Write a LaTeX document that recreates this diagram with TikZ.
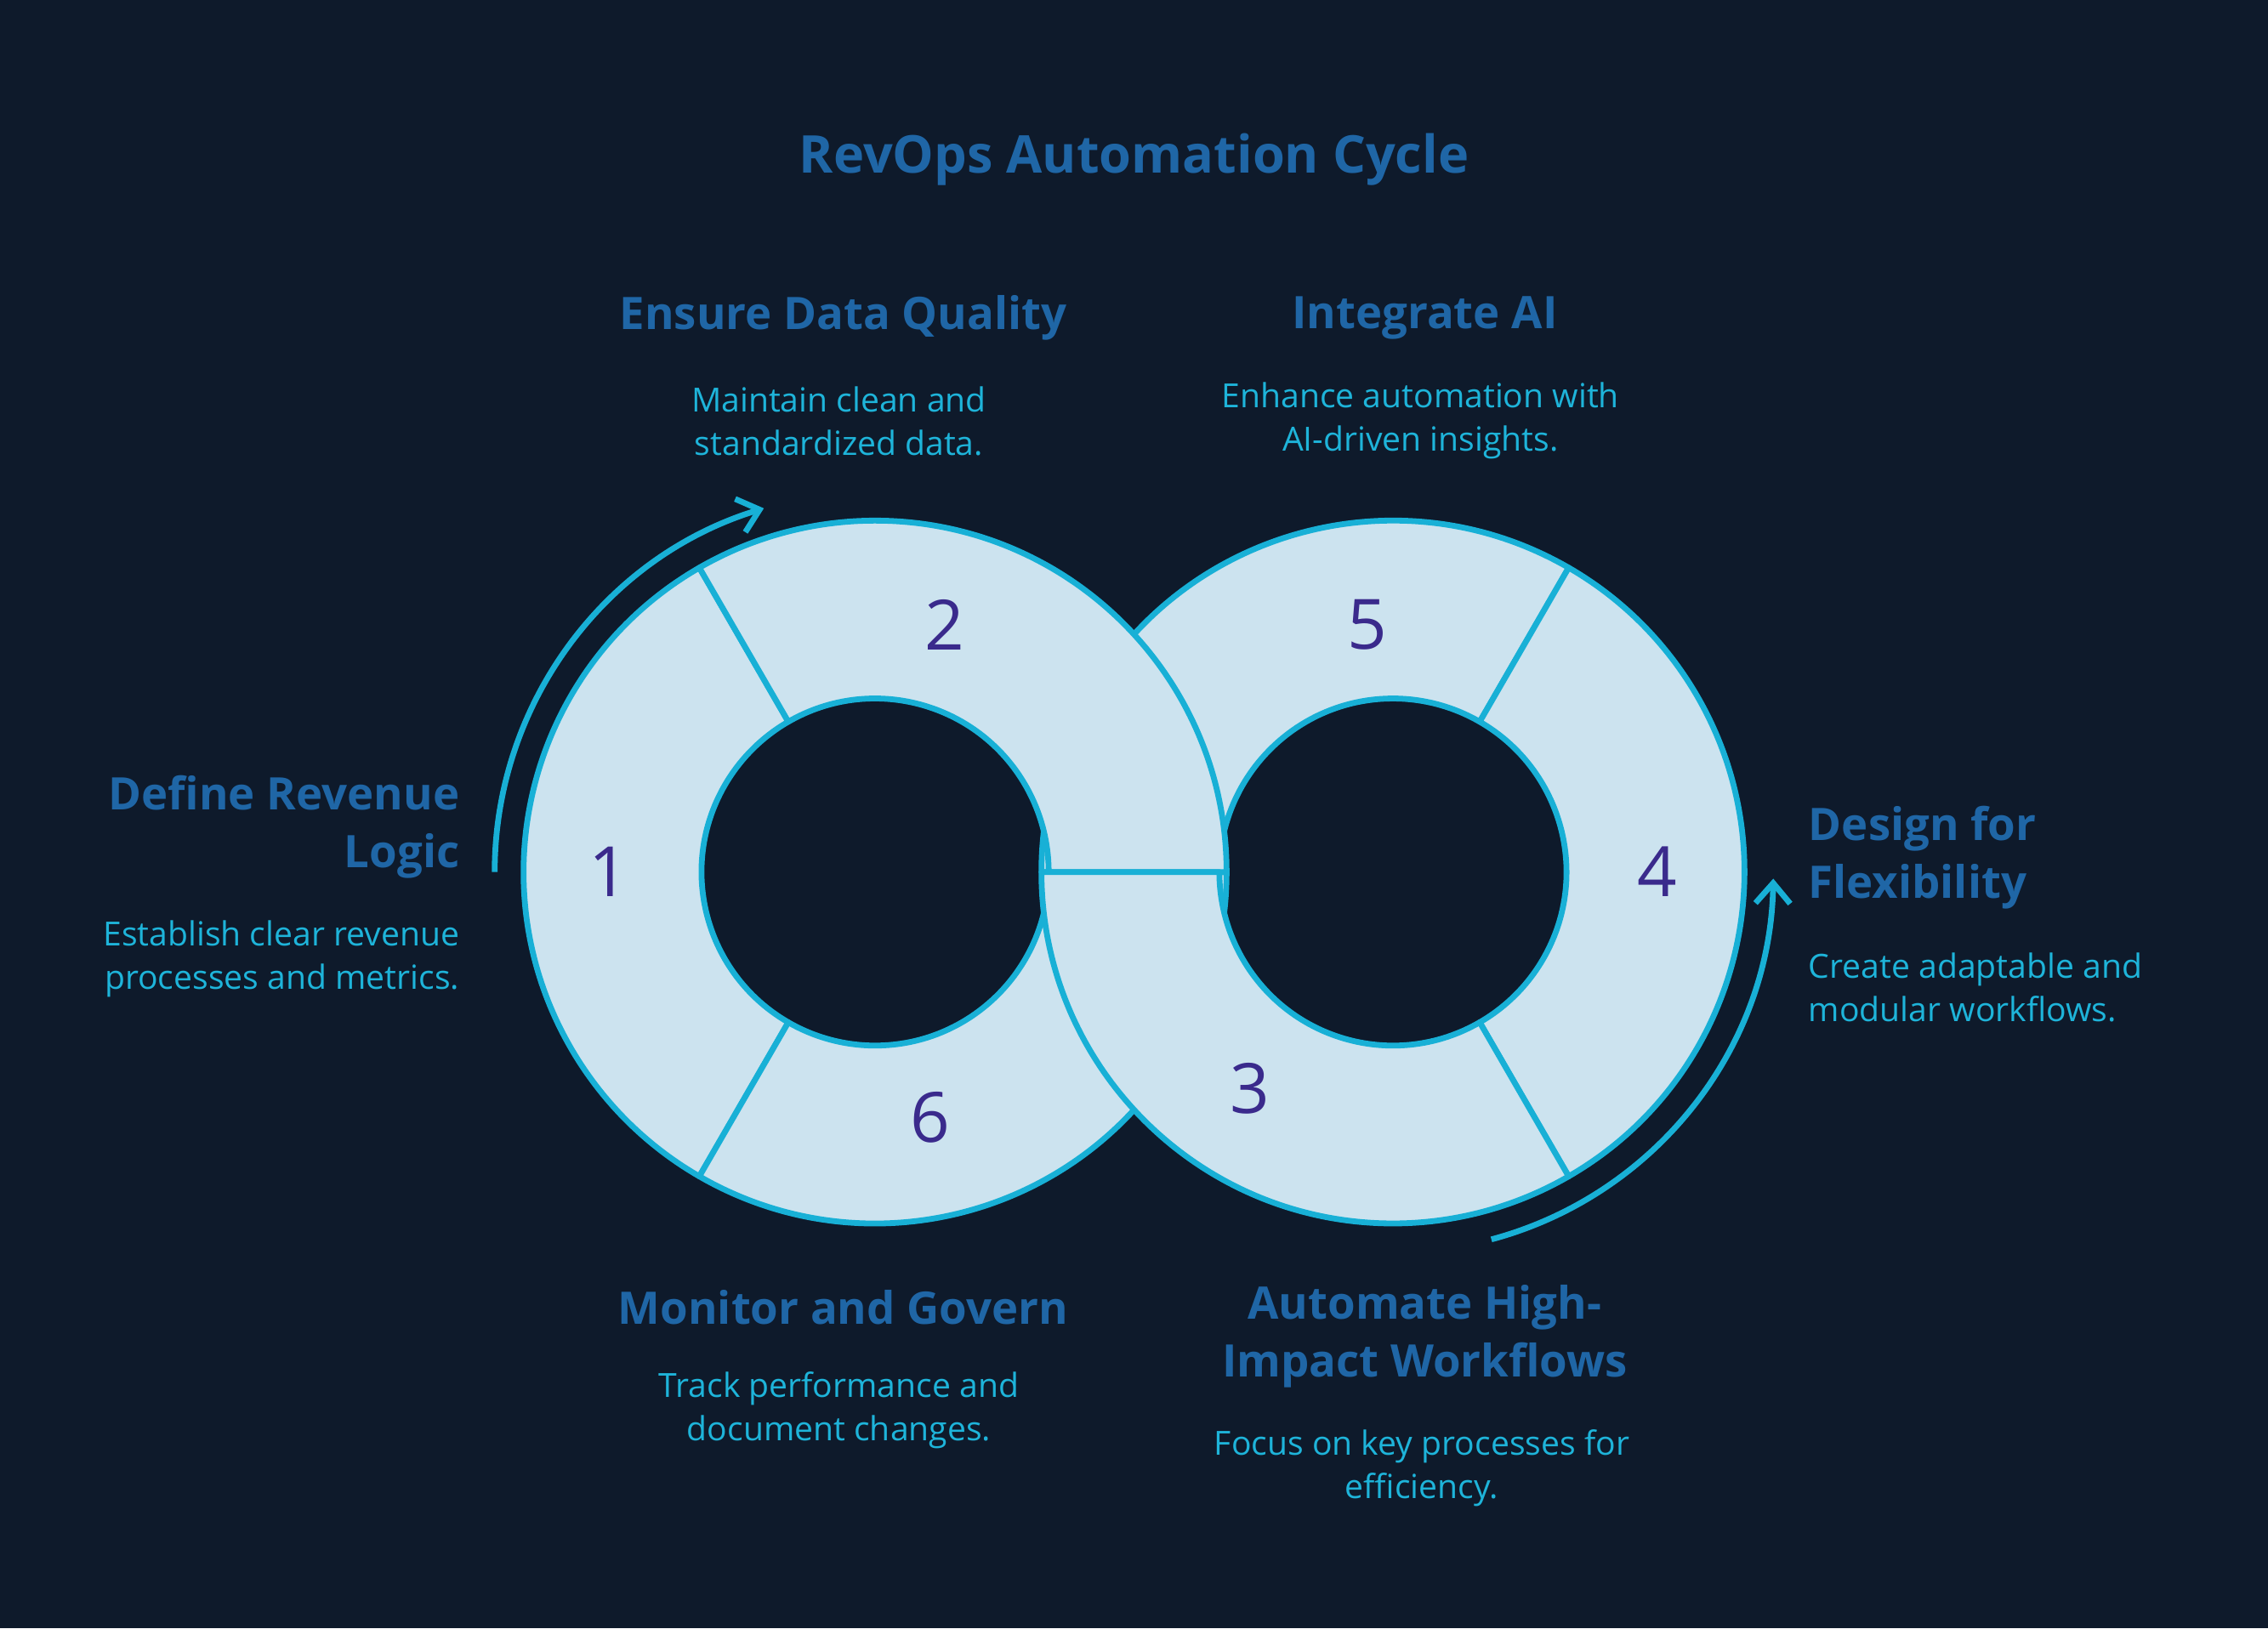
\documentclass[tikz,border=0pt]{standalone}
\usepackage{fontspec}
\setmainfont{Open Sans}
\usetikzlibrary{arrows.meta}
\definecolor{bg}{HTML}{0E1A2B}
\definecolor{ringfill}{HTML}{CCE3EF}
\definecolor{ringline}{HTML}{18B0D6}
\definecolor{head}{HTML}{1F66A6}
\definecolor{desc}{HTML}{1EB4DA}
\definecolor{num}{HTML}{3A2A8C}
\tikzset{
  seg/.style={fill=ringfill,draw=ringline,line width=2pt,line join=round},
  headtxt/.style={text=head,font=\bfseries\fontsize{15.5}{20}\selectfont,align=center},
  desctxt/.style={text=desc,font=\fontsize{11.5}{15}\selectfont,align=center},
  numtxt/.style={text=num,font=\fontsize{24}{28}\selectfont},
  cyc/.style={draw=ringline,line width=2pt,-{Straight Barb[length=7pt,width=12pt,line width=2pt]}}
}
\begin{document}
\begin{tikzpicture}[x=0.5pt,y=-0.5pt]
\fill[bg] (0,0) rectangle (1568,1126);
\useasboundingbox (0,0) rectangle (1568,1126);
\def\Ro{243}\def\Ri{120}
\coordinate (L) at (605,603);
\coordinate (R) at (963,603);
\path[seg] ([shift={(-120:\Ro)}]L) arc[start angle=-120,end angle=-240,radius=\Ro] -- ([shift={(-240:\Ri)}]L) arc[start angle=-240,end angle=-120,radius=\Ri] -- cycle;
\path[seg] ([shift={(-240:\Ro)}]L) arc[start angle=-240,end angle=-360,radius=\Ro] -- ([shift={(0:\Ri)}]L) arc[start angle=-360,end angle=-240,radius=\Ri] -- cycle;
\path[seg] ([shift={(-60:\Ro)}]R) arc[start angle=-60,end angle=-180,radius=\Ro] -- ([shift={(-180:\Ri)}]R) arc[start angle=-180,end angle=-60,radius=\Ri] -- cycle;
\path[seg] ([shift={(60:\Ro)}]R) arc[start angle=60,end angle=-60,radius=\Ro] -- ([shift={(-60:\Ri)}]R) arc[start angle=-60,end angle=60,radius=\Ri] -- cycle;
\path[seg] ([shift={(0:\Ro)}]L) arc[start angle=0,end angle=-120,radius=\Ro] -- ([shift={(-120:\Ri)}]L) arc[start angle=-120,end angle=0,radius=\Ri] -- cycle;
\path[seg] ([shift={(180:\Ro)}]R) arc[start angle=180,end angle=60,radius=\Ro] -- ([shift={(60:\Ri)}]R) arc[start angle=60,end angle=180,radius=\Ri] -- cycle;
% cycle arrows
\draw[cyc] ([shift={(180:263)}]L) arc[start angle=180,end angle=253,radius=263];
\draw[cyc] ([shift={(75:263)}]R) arc[start angle=75,end angle=1,radius=263];
% numbers
\node[numtxt] (n1) at (421,603) {1};
\node[numtxt] (n2) at (653,432) {2};
\node[numtxt] (n5) at (945,432) {5};
\node[numtxt] (n4) at (1146,603) {4};
\node[numtxt] (n3) at (864,753) {3};
\node[numtxt] (n6) at (643,773) {6};
% title
\node[text=head,font=\bfseries\fontsize{18}{22}\selectfont] (title) at (784,110) {RevOps Automation Cycle};
% labels
\node[headtxt] (h2) at (583,220) {Ensure Data Quality};
\node[desctxt] (d2) at (580,291) {Maintain clean and\\standardized data.};
\node[headtxt] (h5) at (985,220) {Integrate AI};
\node[desctxt] (d5) at (982,291) {Enhance automation with\\AI-driven insights.};
\node[headtxt,align=right,anchor=east,inner sep=0pt] (h1) at (318,572) {Define Revenue\\Logic};
\node[desctxt,align=right,anchor=east,inner sep=0pt] (d1) at (318,663) {Establish clear revenue\\processes and metrics.};
\node[headtxt,align=left,anchor=west,inner sep=0pt] (h4) at (1250,593) {Design for\\Flexibility};
\node[desctxt,align=left,anchor=west,inner sep=0pt] (d4) at (1250,683) {Create adaptable and\\modular workflows.};
\node[headtxt] (h6) at (583,904) {Monitor and Govern};
\node[desctxt] (d6) at (580,975) {Track performance and\\document changes.};
\node[headtxt] (h3) at (985,924) {Automate High-\\Impact Workflows};
\node[desctxt] (d3) at (983,1015) {Focus on key processes for\\efficiency.};
\end{tikzpicture}
\end{document}
